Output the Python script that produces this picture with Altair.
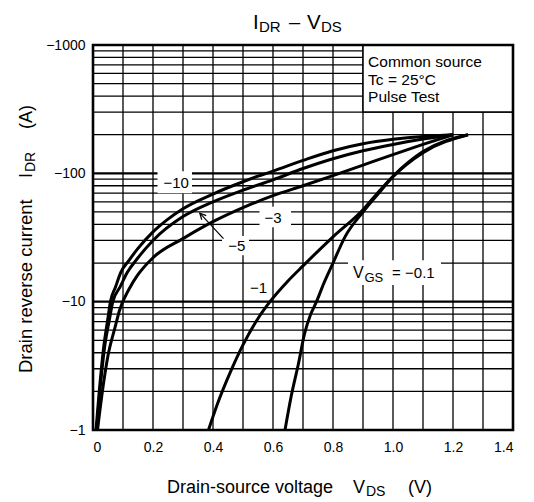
import math
import altair as alt
import pandas as pd

# ---- I_DR - V_DS characteristics (I_DR in A, negative = reverse) ----
vds_m10 = [0.01, 0.02, 0.035, 0.05, 0.058, 0.075, 0.093, 0.12, 0.15, 0.2, 0.25, 0.3, 0.4, 0.5, 0.55, 0.6, 0.7, 0.8, 0.9, 1.0, 1.1, 1.2]
idr_m10 = [-1, -1.9, -4.3, -7.5, -10, -13, -17, -21, -26, -35, -44, -53, -69, -86, -95, -104, -126, -150, -170, -184, -194, -200]

vds_m5 = [0.012, 0.022, 0.038, 0.055, 0.066, 0.09, 0.115, 0.15, 0.2, 0.3, 0.4, 0.5, 0.6, 0.7, 0.8, 0.9, 1.0, 1.1, 1.2]
idr_m5 = [-1, -1.9, -4.3, -7.3, -10, -13, -17, -22, -30, -46, -60, -74, -89, -109, -130, -150, -168, -185, -200]

vds_m3 = [0.015, 0.03, 0.05, 0.075, 0.088, 0.12, 0.148, 0.2, 0.3, 0.4, 0.5, 0.6, 0.7, 0.8, 0.9, 1.0, 1.1, 1.2]
idr_m3 = [-1, -1.9, -3.8, -6.5, -8.5, -12.5, -16, -22, -31, -42, -54, -67, -80, -96, -116, -140, -168, -200]

vds_m1 = [0.385, 0.415, 0.46, 0.5, 0.55, 0.59, 0.65, 0.7, 0.8, 0.9, 0.95, 1.0, 1.1, 1.25]
idr_m1 = [-1, -1.6, -2.9, -4.6, -7.4, -10, -14.5, -19, -32, -52, -71, -95, -148, -200]

vds_m01 = [0.64, 0.66, 0.685, 0.705, 0.725, 0.745, 0.77, 0.8, 0.84, 0.9, 0.95, 1.0, 1.1, 1.25]
idr_m01 = [-1, -1.8, -3.3, -5.6, -7.9, -10, -14, -20, -32, -50, -69, -94, -145, -200]

series = [("-10", vds_m10, idr_m10), ("-5", vds_m5, idr_m5), ("-3", vds_m3, idr_m3),
          ("-1", vds_m1, idr_m1), ("-0.1", vds_m01, idr_m01)]

rows = []
for vgs, xs_, ys_ in series:
    for k, (x, y) in enumerate(zip(xs_, ys_)):
        rows.append({"vgs": vgs, "vds": x, "mag": -y, "k": k})
curves = pd.DataFrame(rows)

# ---- grid ----
grid_x = [0.1, 0.2, 0.3, 0.4, 0.5, 0.6, 0.7, 0.8, 0.9, 1.0, 1.1, 1.2, 1.3]
grid_minor = [2, 3, 4, 5, 6, 7, 8, 9, 20, 30, 40, 50, 60, 70, 80, 90, 200, 300, 400, 500, 600, 700, 800, 900]
grid_major = [10, 100]
x_ticks = [0, 0.2, 0.4, 0.6, 0.8, 1.0, 1.2, 1.4]
y_ticks = [1, 10, 100, 1000]

FONT = "Liberation Sans"
xs = alt.Scale(domain=[0, 1.4], nice=False, zero=False)
ys = alt.Scale(type="log", domain=[1, 1000], nice=False)

# one axis definition shared by every layer so the merged axes keep their labels
x_axis = alt.Axis(values=x_ticks, labelExpr="datum.value == 0 ? '0' : format(datum.value, '.1f')",
                  ticks=False, grid=False, domain=False, labelFont=FONT, labelFontSize=14,
                  labelColor="black", labelPadding=10, title=None)
y_axis = alt.Axis(values=y_ticks, labelExpr="'\u2212' + datum.value", ticks=False, grid=False,
                  domain=False, labelFont=FONT, labelFontSize=14, labelColor="black",
                  labelPadding=8, title=None)


def X(field):
    return alt.X(field, type="quantitative", scale=xs, axis=x_axis)


def Y(field):
    return alt.Y(field, type="quantitative", scale=ys, axis=y_axis)


vgrid = alt.Chart(pd.DataFrame({"vds": grid_x})).mark_rule(color="black", strokeWidth=1.3).encode(x=X("vds"))
hgrid = alt.Chart(pd.DataFrame({"mag": grid_minor})).mark_rule(color="black", strokeWidth=1.3).encode(y=Y("mag"))
hgrid_major = alt.Chart(pd.DataFrame({"mag": grid_major})).mark_rule(color="black", strokeWidth=2.4).encode(y=Y("mag"))

# white patches behind the curve labels
boxes = pd.DataFrame({
    "x0": [0.215, 0.555, 0.43, 0.85],
    "x1": [0.33, 0.66, 0.52, 1.16],
    "y0": [70, 38, 23, 13.5],
    "y1": [104, 55, 32.5, 21],
})
label_boxes = alt.Chart(boxes).mark_rect(color="white").encode(x=X("x0"), x2="x1", y=Y("y0"), y2="y1")

curve_layer = alt.Chart(curves).mark_line(color="black", strokeWidth=3, interpolate="monotone").encode(
    x=X("vds"), y=Y("mag"), detail="vgs:N", order="k:Q")

# curve labels
labels = pd.DataFrame({
    "vds": [0.277, 0.6, 0.479, 0.552],
    "mag": [84, 45, 27, 12.8],
    "t": ["\u221210", "\u22123", "\u22125", "\u22121"],
})
label_text = alt.Chart(labels).mark_text(font=FONT, fontSize=15, color="black", baseline="middle").encode(
    x=X("vds"), y=Y("mag"), text="t:N")

vgs_parts = pd.DataFrame({
    "vds": [0.867, 0.905, 0.997],
    "mag": [15.3, 14.2, 15.3],
    "t": ["V", "GS", "= \u22120.1"],
    "fs": [16, 13, 15],
})
vgs_text = alt.Chart(vgs_parts).mark_text(font=FONT, color="black", align="left", baseline="alphabetic").encode(
    x=X("vds"), y=Y("mag"), text="t:N", size=alt.Size("fs:Q", scale=None))

# leader arrow for the -5 curve
tail = (0.435, 31.0)
head = (0.356, 48.9)
px_per_v = 420 / 1.4
px_per_dec = 385 / 3
dx = (head[0] - tail[0]) * px_per_v
dy = -(math.log10(head[1]) - math.log10(tail[1])) * px_per_dec
arrow_angle = math.degrees(math.atan2(dy, dx)) % 360
arrow_line = alt.Chart(pd.DataFrame({"vds": [tail[0], head[0]], "mag": [tail[1], head[1]]})).mark_line(
    color="black", strokeWidth=1.2).encode(x=X("vds"), y=Y("mag"))
arrow_head = alt.Chart(pd.DataFrame({"vds": [head[0]], "mag": [head[1]]})).mark_point(
    shape="M -1 -0.5 L 0 0 L -1 0.5", filled=False, color="black", strokeWidth=1.2, size=150,
    angle=arrow_angle, opacity=1).encode(x=X("vds"), y=Y("mag"))

# conditions box
cond_box = alt.Chart(pd.DataFrame({"x0": [0.9], "x1": [1.4], "y0": [300], "y1": [1000]})).mark_rect(
    color="white", stroke="black", strokeWidth=1.5).encode(x=X("x0"), x2="x1", y=Y("y0"), y2="y1")
cond_lines = pd.DataFrame({"vds": [0.917, 0.917, 0.917], "mag": [675, 489, 357],
                           "t": ["Common source", "Tc = 25\u00b0C", "Pulse Test"]})
cond_text = alt.Chart(cond_lines).mark_text(font=FONT, fontSize=15.5, color="black", align="left",
                                             baseline="alphabetic").encode(x=X("vds"), y=Y("mag"), text="t:N")

frame = alt.Chart(pd.DataFrame({"x0": [0.0], "x1": [1.4], "y0": [1], "y1": [1000]})).mark_rect(
    fillOpacity=0, stroke="black", strokeWidth=2.6).encode(x=X("x0"), x2="x1", y=Y("y0"), y2="y1")


def piece(text, x, y, size, angle=0):
    return alt.Chart(pd.DataFrame({"t": [text]})).mark_text(
        font=FONT, fontSize=size, color="black", align="left", baseline="alphabetic", angle=angle).encode(
        text="t:N", x=alt.value(x), y=alt.value(y))


title_parts = [
    piece("I", 160, -16, 20.5), piece("DR", 166, -13, 15), piece("\u2013", 196, -16, 20),
    piece("V", 214, -16, 20.5), piece("DS", 228, -13, 15),
]
xtitle_parts = [
    piece("Drain-source voltage", 74, 448, 18), piece("V", 260, 448, 18),
    piece("DS", 273, 451, 14), piece("(V)", 315, 448, 18),
]
ytitle_parts = [
    piece("Drain reverse current", -61, 328, 18.5, 270), piece("I", -61, 133, 18, 270),
    piece("DR", -58, 127, 14, 270), piece("(A)", -61, 84, 18, 270),
]

chart = alt.layer(
    vgrid, hgrid, hgrid_major, label_boxes, curve_layer, arrow_line, arrow_head,
    label_text, vgs_text, cond_box, cond_text, frame,
    *title_parts, *xtitle_parts, *ytitle_parts,
).properties(
    width=420, height=385,
    autosize=alt.AutoSizeParams(type="none"),
    padding={"left": 93, "top": 45, "right": 21, "bottom": 72},
    background="white",
).configure_view(stroke=None)

chart.save("out.html", embed_options={"renderer": "svg", "actions": False})
